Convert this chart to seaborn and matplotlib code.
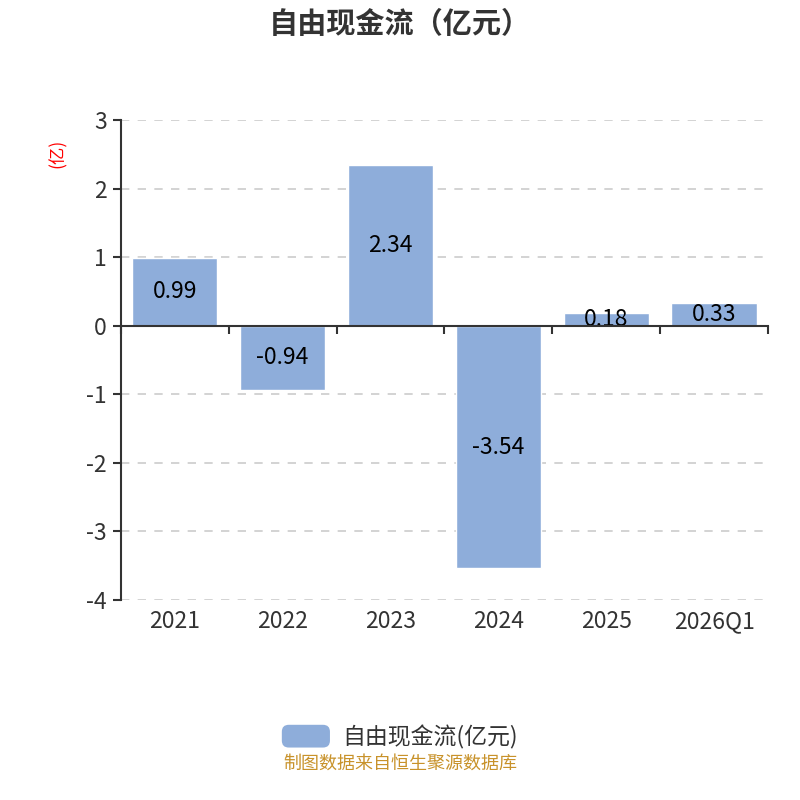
import numpy as np
import pandas as pd
import seaborn as sns
import matplotlib.pyplot as plt
from matplotlib.patches import FancyBboxPatch, Patch
from matplotlib.legend_handler import HandlerPatch

# data
periods = ["2021", "2022", "2023", "2024", "2025", "2026Q1"]
free_cash_flow = [0.99, -0.94, 2.34, -3.54, 0.18, 0.33]
y_ticks = [-4, -3, -2, -1, 0, 1, 2, 3]

title = "自由现金流（亿元）"
series_name = "自由现金流(亿元)"
unit_label = "(亿)"
footer = "制图数据来自恒生聚源数据库"

bar_color = "#8EADDA"
axis_color = "#333333"

sns.set_theme(style="white")
plt.rcParams["font.family"] = ["Noto Sans CJK SC", "DejaVu Sans"]


class RoundedPatchHandler(HandlerPatch):
    def create_artists(self, legend, orig_handle, xdescent, ydescent,
                       width, height, fontsize, trans):
        p = FancyBboxPatch((-xdescent, -ydescent), width, height,
                           boxstyle="round,pad=0,rounding_size=5",
                           fc=orig_handle.get_facecolor(), ec="none",
                           transform=trans)
        return [p]


df = pd.DataFrame({"period": periods, "value": free_cash_flow})

fig = plt.figure(figsize=(8, 8), dpi=100)
ax = fig.add_axes([0.151, 0.25, 0.809, 0.60])

sns.barplot(data=df, x="period", y="value", color=bar_color,
            width=0.79, saturation=1, ax=ax)

# value labels in the middle of each bar
for bar, v in zip(ax.patches, free_cash_flow):
    ax.text(bar.get_x() + bar.get_width() / 2, v / 2, f"{v:.2f}",
            ha="center", va="center", fontsize=16.5, color="black")

ax.set_ylim(-4, 3)
ax.set_xlim(-0.5, len(periods) - 0.5)
ax.set_yticks(y_ticks)
ax.set_yticklabels([str(t) for t in y_ticks], fontsize=16.5, color=axis_color)
ax.set_xlabel("")
ax.set_ylabel("")

# dashed grid
for t in y_ticks:
    if t != 0:
        ax.axhline(t, color="#cccccc", lw=1.2, ls=(0, (5, 5)), zorder=0)

# x axis line at zero with ticks between categories
for s in ["top", "right"]:
    ax.spines[s].set_visible(False)
ax.spines["left"].set_color(axis_color)
ax.spines["left"].set_linewidth(1.5)
ax.spines["bottom"].set_position(("data", 0))
ax.spines["bottom"].set_color(axis_color)
ax.spines["bottom"].set_linewidth(1.5)
ax.spines["bottom"].set_zorder(5)
ax.set_xticks(np.arange(-0.5, len(periods)))
ax.set_xticklabels([])
ax.tick_params(axis="x", bottom=True, length=6, width=1.5, color=axis_color)
ax.tick_params(axis="y", left=True, length=6, width=1.5, color=axis_color, pad=4)

# category labels at the bottom
sec = ax.secondary_xaxis("bottom")
sec.set_xticks(range(len(periods)))
sec.set_xticklabels(periods, fontsize=16.5, color=axis_color)
sec.tick_params(length=0, pad=7)
sec.spines["bottom"].set_visible(False)

ax.text(-0.098, 0.93, unit_label, transform=ax.transAxes, rotation=90,
        color="red", fontsize=12.5, ha="center", va="center")

fig.text(0.5, 0.970, title, ha="center", va="center", fontsize=21,
         fontweight="bold", color=axis_color)

fig.legend(handles=[Patch(facecolor=bar_color, label=series_name)],
           handler_map={Patch: RoundedPatchHandler()},
           loc="center", bbox_to_anchor=(0.5, 0.079), frameon=False,
           fontsize=16.5, handlelength=2.1, handleheight=1.15, handletextpad=0.55,
           labelcolor=axis_color)

fig.text(0.5, 0.046, footer, ha="center", va="center", fontsize=13,
         color="#C8922A")

fig.savefig("out.png", dpi=100)
